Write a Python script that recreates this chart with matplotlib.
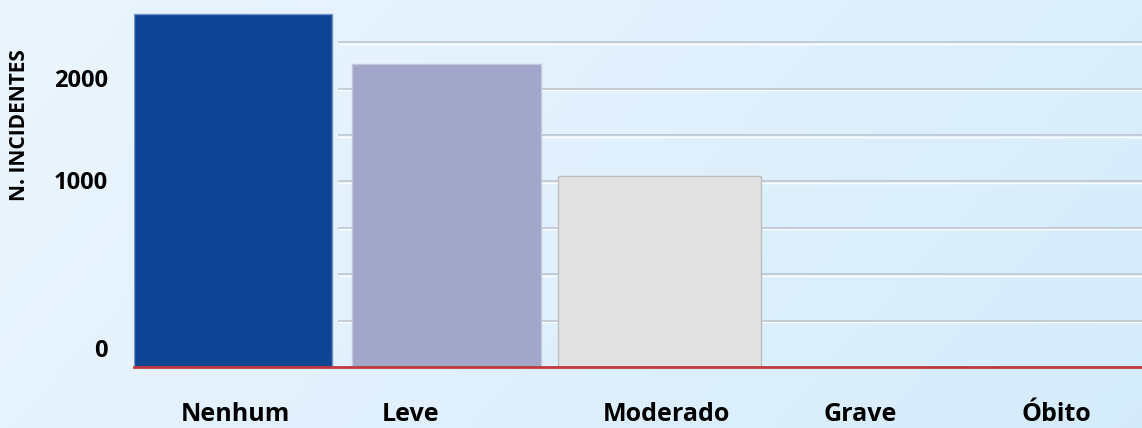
import numpy as np
import matplotlib
matplotlib.use("Agg")
import matplotlib.pyplot as plt
import matplotlib.transforms as mtransforms

categories = ["Nenhum", "Leve", "Moderado", "Grave", "Óbito"]
incidents = [1900, 1630, 1030, 0, 0]
bar_colors = ["#0E4494", "#A2A6C8", "#E1E1E1", "#E1E1E1", "#E1E1E1"]
edge_colors = ["#6F93C8", "#C3C7DD", "#BEBEBE", "#BEBEBE", "#BEBEBE"]
bar_widths = [0.927, 0.885, 0.951, 0.9, 0.9]
grid_values = [250, 500, 750, 1000, 1250, 1500, 1750]
ytick_labels = ["0", "1000", "2000"]
ytick_pos = [102, 1008, 1557]
xlabel_pos = [0.01, 0.83, 2.03, 2.94, 3.86]

plt.rcParams['font.family'] = ['Open Sans', 'DejaVu Sans']

W, H = 1142, 428
fig = plt.figure(figsize=(W / 100, H / 100), dpi=100)

# background gradient
bg = fig.add_axes([0, 0, 1, 1], zorder=0)
xx, yy = np.meshgrid(np.linspace(0, 1, 300), np.linspace(0, 1, 120))
c0 = np.array([0.925, 0.960, 0.992])
c1 = np.array([0.835, 0.925, 0.985])
t = np.clip(0.75 * xx + 0.25 * yy, 0, 1)[..., None]
img = c0 * (1 - t) + c1 * t
bg.imshow(img, aspect='auto', extent=[0, 1, 0, 1], origin='upper')
bg.set_axis_off()

left = 134 / W
bottom = (H - 367) / H
ax = fig.add_axes([left, bottom, 1 - left, 367 / H], zorder=1)
ax.patch.set_alpha(0)

x = np.arange(len(categories))
ax.set_xlim(-0.465, 4.26)
ax.set_ylim(0, 367 / 46.4 * 250)

# gridlines (gray line with a white highlight just below)
off = mtransforms.offset_copy(ax.transData, fig=fig, x=0, y=-1.6, units='dots')
ax.hlines(grid_values, 0.49, 4.26, colors='white', lw=1.0, zorder=1, transform=off)
ax.hlines(grid_values, 0.49, 4.26, colors='#B9C3CE', lw=1.1, zorder=1)

ax.bar(x, incidents, width=bar_widths, color=bar_colors, edgecolor=edge_colors,
       linewidth=1.0, zorder=2)
ax.axhline(0, color='#C0393D', lw=2.0, zorder=3, clip_on=False)

for s in ax.spines.values():
    s.set_visible(False)

ax.set_yticks(ytick_pos)
ax.set_yticklabels(ytick_labels, fontsize=17, fontweight='bold')
ax.tick_params(axis='y', length=0, pad=19)
ax.set_xticks(xlabel_pos)
ax.set_xticklabels(categories, fontsize=18, fontweight='bold')
ax.tick_params(axis='x', length=0, pad=25)

fig.text(20 / W, 1 - 125 / H, "N. INCIDENTES", rotation=90, ha='center', va='center',
         fontsize=15, fontweight='bold')

fig.savefig("out.png", dpi=100)
